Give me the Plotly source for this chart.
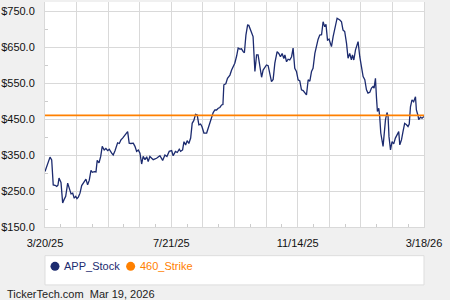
import plotly.graph_objects as go

# Trading-session index (0 = 3/20/25, 249 = 3/18/26) and closing price
session = [0, 3.3, 4.4, 5.4, 6.6, 7.7, 8.5, 9.2, 10.5, 11.6, 12.5, 13.6, 14.9, 16.0, 17.1, 18.2,
           19.2, 20.2, 21.0, 21.9, 23.0, 24.1, 25.8, 26.9, 28.0, 29.1, 30.2, 31.1, 32.4, 33.5,
           34.3, 35.5, 36.6, 37.6, 38.9, 40.0, 41.2, 42.2, 43.8, 44.8, 46.0, 47.7, 48.8, 49.9,
           51.0, 52.1, 53.2, 54.3, 55.3, 56.5, 58.0, 59.1, 60.2, 61.3, 62.4, 63.5, 64.5, 65.7,
           66.8, 67.8, 68.9, 70.0, 71.1, 73.3, 75.5, 77.3, 78.8, 80.1, 81.6, 83.2, 84.2, 85.7,
           86.9, 88.2, 89.1, 90.4, 91.3, 92.4, 93.4, 94.5, 95.7, 96.7, 97.8, 98.9, 100.0, 101.1,
           102.2, 103.1, 104.4, 106.2, 107.2, 108.3, 109.4, 110.5, 111.6, 112.7, 113.8, 114.9,
           116.0, 116.9, 117.5, 118.8, 119.9, 121.5, 122.6, 123.6, 124.7, 125.9, 126.9, 128.0,
           129.1, 130.2, 131.0, 132.0, 133.1, 133.9, 135.2, 136.7, 137.9, 139.0, 140.0, 141.1,
           142.3, 143.3, 144.4, 145.5, 146.6, 147.7, 148.8, 149.9, 151.0, 152.5, 153.6, 154.7,
           155.8, 156.9, 157.6, 158.7, 159.7, 160.8, 162.0, 163.0, 164.1, 165.2, 166.3, 167.4,
           168.5, 169.6, 170.7, 171.8, 172.9, 174.0, 175.1, 176.1, 177.3, 178.4, 179.4, 180.5,
           181.7, 182.7, 183.8, 184.6, 185.6, 186.6, 188.2, 189.3, 189.9, 191.0, 191.9, 193.7,
           194.8, 195.8, 196.9, 198.1, 199.1, 200.2, 201.3, 202.0, 202.9, 204.0, 205.0, 205.7,
           206.8, 207.9, 209.0, 210.1, 211.2, 212.2, 213.4, 214.5, 215.5, 216.2, 217.1, 217.8,
           218.4, 219.3, 219.9, 220.6, 221.4, 222.1, 222.8, 223.7, 224.7, 225.4, 226.0, 227.0,
           228.0, 229.1, 230.2, 231.5, 232.4, 233.1, 234.2, 235.2, 236.3, 237.5, 238.5, 239.3,
           240.1, 241.1, 242.2, 243.4, 244.0, 245.1, 245.5, 246.7, 247.7, 249.0]
price = [304, 344, 336, 267, 266, 263, 266, 286, 274, 217, 226, 235, 272, 258, 242, 244,
         230, 235, 229, 233, 244, 265, 274, 283, 267, 280, 307, 302, 304, 303,
         335, 328, 346, 374, 364, 368, 362, 366, 355, 350, 362, 384, 382, 392,
         397, 403, 410, 415, 383, 382, 383, 374, 360, 364, 355, 325, 346, 337,
         345, 332, 346, 340, 337, 341, 348, 335, 350, 346, 360, 362, 348, 360,
         357, 366, 360, 364, 387, 378, 390, 382, 397, 438, 446, 463, 461, 434,
         436, 429, 411, 411, 425, 443, 457, 468, 475, 475, 480, 482,
         489, 490, 545, 548, 563, 572, 586, 595, 605, 625, 647, 644,
         645, 637, 634, 683, 711, 710, 693, 679, 582, 628, 628, 591,
         566, 586, 595, 600, 598, 577, 554, 560, 605, 637, 632, 623,
         632, 618, 628, 609, 616, 614, 623, 647, 591, 582, 559, 556,
         531, 529, 522, 517, 559, 555, 582, 591, 632, 656, 671, 683,
         684, 720, 706, 713, 669, 672, 651, 679, 693, 720, 730, 725,
         720, 697, 693, 660, 619, 632, 614, 628, 614, 642, 656, 665,
         623, 591, 568, 559, 531, 522, 524, 536, 540, 536, 563, 508,
         471, 480, 457, 411, 383, 374, 406, 448, 468, 457, 401, 364,
         387, 381, 397, 406, 415, 378, 392, 415, 438, 434, 429, 436,
         484, 503, 498, 512, 475, 459, 448, 455, 452, 457]

strike = 460
stock_name = "APP_Stock"
strike_name = "460_Strike"

x_tick_labels = ["3/20/25", "7/21/25", "11/14/25", "3/18/26"]
y_tick_values = [150, 250, 350, 450, 550, 650, 750]

NAVY = "#1c2b6f"
ORANGE = "#ff8000"
GRID = "#d9d9d9"

last = 249
x_major = [last * i / 12 for i in range(13)]
x_text = [x_tick_labels[i // 4] if i % 4 == 0 else "" for i in range(13)]
x_minor = [last * (i + 0.5) / 12 for i in range(12)]

fig = go.Figure()
fig.add_trace(go.Scatter(x=session, y=price, mode="lines", name=stock_name,
                         line=dict(color=NAVY, width=1.3), showlegend=False))
fig.add_trace(go.Scatter(x=[0, last], y=[strike, strike], mode="lines", name=strike_name,
                         line=dict(color=ORANGE, width=1.6), showlegend=False))

fig.update_layout(
    width=450, height=300,
    margin=dict(l=45, r=26, t=2, b=73),
    paper_bgcolor="#f0f0f0", plot_bgcolor="#ffffff",
    font=dict(family="Liberation Sans, Arial, sans-serif", size=11, color="#111111"),
    showlegend=False,
)
fig.update_xaxes(range=[0, last], tickmode="array", tickvals=x_major, ticktext=x_text,
                 showgrid=True, gridcolor=GRID, gridwidth=1, zeroline=False,
                 showline=True, linecolor=GRID, linewidth=1, ticks="",
                 ticklabelstandoff=6,
                 minor=dict(tickmode="array", tickvals=x_minor, ticks="inside", ticklen=3,
                            tickcolor="#cccccc", showgrid=False))
fig.update_yaxes(range=[150, 775], tickmode="array", tickvals=y_tick_values,
                 ticktext=[f"${v:.1f}" for v in y_tick_values],
                 showgrid=True, gridcolor=GRID, gridwidth=1, zeroline=False,
                 showline=True, linecolor=GRID, linewidth=1, mirror=True, ticks="",
                 ticklabelstandoff=7,
                 minor=dict(tickmode="array", tickvals=[v + 50 for v in y_tick_values[:-1]],
                            ticks="inside", ticklen=3, tickcolor="#cccccc", showgrid=False))

# legend panel
pw, ph = 379.3, 225.3
def px_x(p):
    return (p - 45) / pw
def px_y(p):
    return (227.3 - p) / ph

fig.add_shape(type="rect", xref="paper", yref="paper", x0=0, x1=1,
              y0=px_y(285.3), y1=px_y(256), fillcolor="#ffffff",
              line=dict(color="#dddddd", width=1), layer="below")
for cx, col in [(55, NAVY), (130.7, ORANGE)]:
    fig.add_shape(type="circle", xref="paper", yref="paper",
                  xsizemode="pixel", ysizemode="pixel",
                  xanchor=px_x(cx), yanchor=px_y(266.7),
                  x0=-4.5, x1=4.5, y0=-4.5, y1=4.5,
                  fillcolor=col, line=dict(color=col, width=0))
fig.add_annotation(text=stock_name, xref="paper", yref="paper", x=px_x(62), y=px_y(266.7),
                   xanchor="left", yanchor="middle", showarrow=False,
                   font=dict(color=NAVY, size=11))
fig.add_annotation(text=strike_name, xref="paper", yref="paper", x=px_x(138), y=px_y(266.7),
                   xanchor="left", yanchor="middle", showarrow=False,
                   font=dict(color=ORANGE, size=11))
fig.add_annotation(text="TickerTech.com  Mar 19, 2026", xref="paper", yref="paper",
                   x=px_x(5), y=px_y(294.3), xanchor="left", yanchor="middle",
                   showarrow=False, font=dict(color="#222222", size=11))

fig.write_html("out.html")
